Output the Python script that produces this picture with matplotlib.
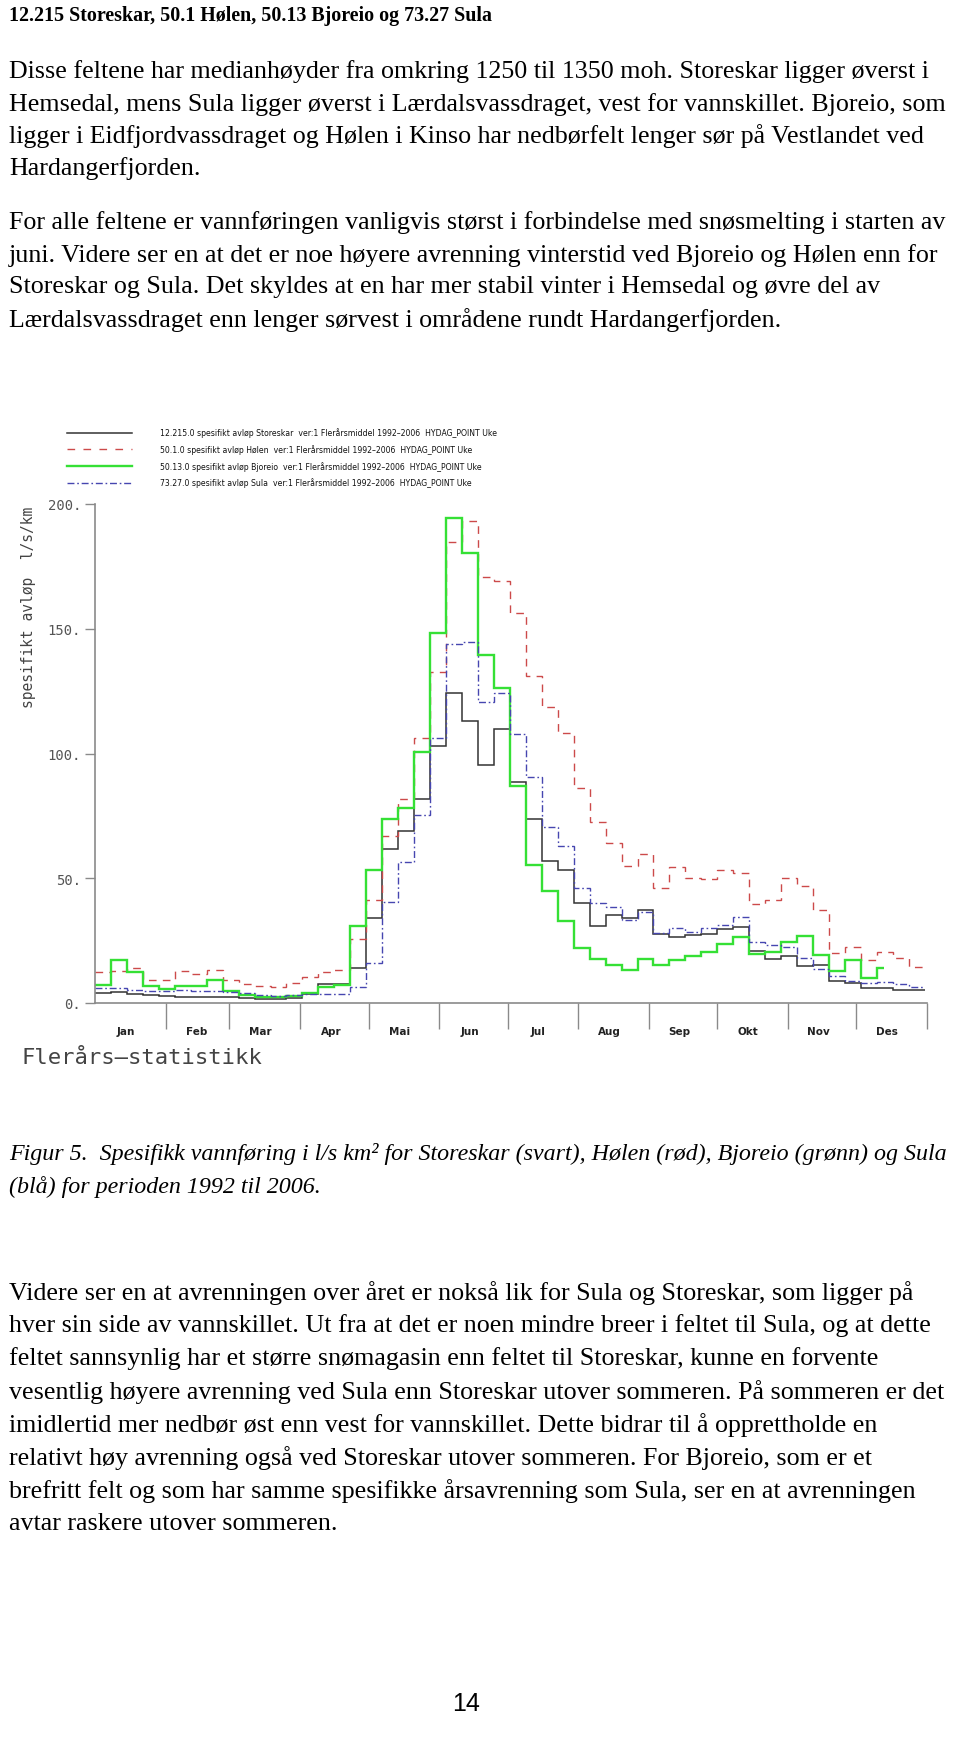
import numpy as np
import matplotlib.pyplot as plt
from matplotlib.lines import Line2D

W, H = 960, 1740

# weekly mean specific runoff (l/s/km2), week 1..52
storeskar = [3.9, 4.4, 3.8, 3.1, 2.7, 2.6, 2.3, 2.4, 2.3, 2.1, 1.8, 1.8, 1.9,
             3.7, 7.6, 7.6, 14.0, 33.9, 61.8, 68.9, 81.8, 102.9, 124.2, 113.2,
             95.2, 109.9, 88.5, 73.6, 56.8, 53.3, 39.9, 31.0, 35.3, 34.0, 37.2,
             27.7, 26.6, 27.3, 27.7, 29.7, 30.6, 21.0, 17.6, 19.0, 14.7, 15.2,
             8.9, 8.0, 6.1, 6.1, 5.2, 5.2]
holen = [12.3, 13.0, 13.9, 9.1, 9.4, 13.0, 11.6, 13.4, 9.2, 7.8, 6.9, 6.6, 8.2,
         10.4, 12.3, 13.3, 25.7, 41.2, 67.1, 81.8, 106.1, 132.6, 184.7, 193.2,
         170.7, 169.2, 156.3, 131.2, 118.8, 108.2, 86.1, 72.7, 64.0, 55.1, 59.7,
         46.0, 54.7, 50.3, 49.5, 53.2, 52.0, 39.6, 41.3, 50.1, 47.0, 37.3,
         20.0, 22.6, 17.2, 20.6, 18.2, 14.6]
bjoreio = [7.2, 17.4, 12.4, 6.8, 5.5, 6.9, 6.9, 9.1, 4.9, 3.4, 2.6, 2.5, 2.9,
           4.2, 6.3, 7.3, 30.9, 53.4, 73.7, 78.3, 100.5, 148.3, 194.2, 180.5,
           139.3, 126.3, 86.9, 55.5, 44.8, 33.0, 22.1, 17.6, 15.4, 13.2, 17.8,
           15.2, 17.1, 18.7, 20.6, 23.5, 26.3, 19.6, 20.3, 24.3, 26.7, 19.2,
           12.8, 17.1, 9.9, 13.9]
bjoreio_end_day = 346
sula = [6.0, 6.2, 5.4, 4.8, 4.7, 5.4, 4.8, 4.9, 4.5, 3.9, 3.3, 2.9, 3.2,
        3.6, 3.7, 3.7, 6.3, 16.1, 40.4, 56.4, 75.2, 106.2, 143.9, 144.6,
        120.6, 124.1, 108.0, 90.5, 70.4, 63.1, 46.0, 40.1, 38.4, 33.4, 36.5,
        28.1, 30.1, 28.6, 30.1, 31.4, 34.5, 24.6, 23.3, 22.3, 18.2, 13.6,
        10.8, 8.9, 7.9, 8.3, 7.5, 6.3]

months = ["Jan", "Feb", "Mar", "Apr", "Mai", "Jun", "Jul", "Aug", "Sep", "Okt", "Nov", "Des"]
month_days = [31, 28, 31, 30, 31, 30, 31, 31, 30, 31, 30, 31]
yticks = [0, 50, 100, 150, 200]

legend_labels = [
    "12.215.0 spesifikt avløp Storeskar  ver:1 Flerårsmiddel 1992\u20132006  HYDAG_POINT Uke",
    "50.1.0 spesifikt avløp Hølen  ver:1 Flerårsmiddel 1992\u20132006  HYDAG_POINT Uke",
    "50.13.0 spesifikt avløp Bjoreio  ver:1 Flerårsmiddel 1992\u20132006  HYDAG_POINT Uke",
    "73.27.0 spesifikt avløp Sula  ver:1 Flerårsmiddel 1992\u20132006  HYDAG_POINT Uke",
]

title = "12.215 Storeskar, 50.1 Hølen, 50.13 Bjoreio og 73.27 Sula"
para1 = [
    "Disse feltene har medianhøyder fra omkring 1250 til 1350 moh. Storeskar ligger øverst i",
    "Hemsedal, mens Sula ligger øverst i Lærdalsvassdraget, vest for vannskillet. Bjoreio, som",
    "ligger i Eidfjordvassdraget og Hølen i Kinso har nedbørfelt lenger sør på Vestlandet ved",
    "Hardangerfjorden.",
]
para2 = [
    "For alle feltene er vannføringen vanligvis størst i forbindelse med snøsmelting i starten av",
    "juni. Videre ser en at det er noe høyere avrenning vinterstid ved Bjoreio og Hølen enn for",
    "Storeskar og Sula. Det skyldes at en har mer stabil vinter i Hemsedal og øvre del av",
    "Lærdalsvassdraget enn lenger sørvest i områdene rundt Hardangerfjorden.",
]
caption = [
    "Figur 5.  Spesifikk vannføring i l/s km² for Storeskar (svart), Hølen (rød), Bjoreio (grønn) og Sula",
    "(blå) for perioden 1992 til 2006.",
]
para3 = [
    "Videre ser en at avrenningen over året er nokså lik for Sula og Storeskar, som ligger på",
    "hver sin side av vannskillet. Ut fra at det er noen mindre breer i feltet til Sula, og at dette",
    "feltet sannsynlig har et større snømagasin enn feltet til Storeskar, kunne en forvente",
    "vesentlig høyere avrenning ved Sula enn Storeskar utover sommeren. På sommeren er det",
    "imidlertid mer nedbør øst enn vest for vannskillet. Dette bidrar til å opprettholde en",
    "relativt høy avrenning også ved Storeskar utover sommeren. For Bjoreio, som er et",
    "brefritt felt og som har samme spesifikke årsavrenning som Sula, ser en at avrenningen",
    "avtar raskere utover sommeren.",
]

plt.rcParams['lines.scale_dashes'] = False
serif = ['Liberation Serif', 'DejaVu Serif']
narrow = ['Liberation Sans Narrow', 'DejaVu Sans Condensed', 'DejaVu Sans']
plotter = ['DejaVu Sans Mono']

fig = plt.figure(figsize=(W / 100, H / 100), dpi=100)


def fx(x):
    return x / W


def fy(y):
    return 1 - y / H


# page text
fs = 18.7
fig.text(fx(9), fy(16), title, family=serif, weight='bold', fontsize=14.4, va='center')
for i, line in enumerate(para1):
    fig.text(fx(9), fy(72 + 32.2 * i), line, family=serif, fontsize=fs, va='center')
for i, line in enumerate(para2):
    fig.text(fx(9), fy(223 + 32.2 * i), line, family=serif, fontsize=fs, va='center')
for i, line in enumerate(caption):
    fig.text(fx(9), fy(1154 + 33 * i), line, family=serif, style='italic', fontsize=17.3,
             va='center')
for i, line in enumerate(para3):
    fig.text(fx(9), fy(1293 + 33 * i), line, family=serif, fontsize=fs, va='center')
fig.text(fx(466), fy(1704), "14", family=['Liberation Sans', 'DejaVu Sans'], fontsize=18,
         ha='center', va='center')

# chart
ax = fig.add_axes([fx(95), fy(1004), (927 - 95) / W, (1004 - 505) / H])
edges = np.arange(len(storeskar) + 1) * 7
edges_b = np.append(np.arange(len(bjoreio)) * 7, bjoreio_end_day)

c_black, c_red, c_green, c_blue = '#333333', '#cc4a4a', '#35e035', '#4646b0'
ax.stairs(storeskar, edges, baseline=None, color=c_black, lw=1.1)
ax.stairs(holen, edges, baseline=None, color=c_red, lw=1.0, linestyle=(0, (5.5, 4.5)))
ax.stairs(bjoreio, edges_b, baseline=None, color=c_green, lw=1.7)
ax.stairs(sula, edges, baseline=None, color=c_blue, lw=1.0, linestyle=(0, (5, 2, 1.2, 2)))

ax.set_xlim(0, 365)
ax.set_ylim(0, 200)
for s in ['top', 'right']:
    ax.spines[s].set_visible(False)
for s in ['left', 'bottom']:
    ax.spines[s].set_color('#8a8a8a')
    ax.spines[s].set_linewidth(1.2)

starts = np.cumsum([0] + month_days)
ax.set_xticks(starts[1:])
ax.set_xticklabels([])
ax.tick_params(axis='x', length=18.5, width=1, color='#8a8a8a')
for m, s in zip(months, starts[:-1]):
    ax.text(s + 13.5, -0.056, m, transform=ax.get_xaxis_transform(), ha='center', va='center',
            family=narrow, weight='bold', fontsize=7.5, color='#222222')

ax.set_yticks(yticks)
ax.set_yticklabels([f"{v}." for v in yticks], family=plotter)
ax.tick_params(axis='y', length=7, width=1, color='#8a8a8a', pad=3, labelsize=10,
               labelcolor='#555555')

fig.text(fx(29), fy(607), "spesifikt avløp  l/s/km", rotation=90, ha='center', va='center',
         family=plotter, fontsize=10.5, color='#444444')
fig.text(fx(22), fy(1058), "Flerårs\u2014statistikk", family=plotter, fontsize=16,
         color='#444444', va='center')

handles = [
    Line2D([], [], color=c_black, lw=1.1),
    Line2D([], [], color=c_red, lw=1.0, linestyle=(0, (5.5, 6))),
    Line2D([], [], color=c_green, lw=1.7),
    Line2D([], [], color=c_blue, lw=1.0, linestyle=(0, (5, 2, 1.2, 2))),
]
leg = fig.legend(handles, legend_labels, loc='upper left', bbox_to_anchor=(fx(67), fy(428.5)),
                 frameon=False, prop={'family': narrow, 'size': 5.6},
                 handlelength=8.3, handletextpad=3.6, labelspacing=0.87, borderpad=0,
                 borderaxespad=0)
for t in leg.get_texts():
    t.set_color('#111111')

fig.savefig("out.png", dpi=100)
